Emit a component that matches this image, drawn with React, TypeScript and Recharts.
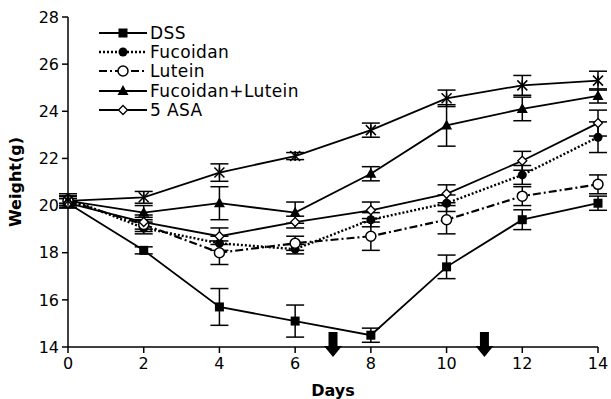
import React from "react";
import {
  LineChart,
  Line,
  XAxis,
  YAxis,
  ErrorBar,
  Legend,
  ReferenceDot,
} from "recharts";

const days = [0, 2, 4, 6, 8, 10, 12, 14];
const dss = [20.1, 18.1, 15.7, 15.1, 14.5, 17.4, 19.4, 20.1];
const dssErr = [0.2, 0.15, 0.78, 0.68, 0.3, 0.5, 0.42, 0.3];
const fucoidan = [20.3, 19.05, 18.4, 18.15, 19.4, 20.1, 21.3, 22.9];
const fucoidanErr = [0.2, 0.25, 0.3, 0.2, 0.3, 0.35, 0.4, 0.65];
const lutein = [20.2, 19.2, 18.0, 18.4, 18.7, 19.4, 20.4, 20.9];
const luteinErr = [0.2, 0.3, 0.5, 0.3, 0.6, 0.6, 0.4, 0.4];
const fucLut = [20.2, 19.7, 20.1, 19.7, 21.35, 23.4, 24.1, 24.65];
const fucLutErr = [0.2, 0.3, 0.7, 0.45, 0.3, 0.88, 0.5, 0.3];
const asa = [20.1, 19.3, 18.7, 19.3, 19.8, 20.5, 21.9, 23.5];
const asaErr = [0.2, 0.3, 0.35, 0.25, 0.35, 0.38, 0.4, 0.55];
const normal = [20.2, 20.35, 21.4, 22.1, 23.2, 24.55, 25.1, 25.3];
const normalErr = [0.2, 0.25, 0.37, 0.15, 0.3, 0.35, 0.42, 0.4];
const xTicks = [0, 2, 4, 6, 8, 10, 12, 14];
const yTicks = [14, 16, 18, 20, 22, 24, 26, 28];
const arrowDays = [7, 11];

const data = days.map((d, i) => ({
  day: d,
  dss: dss[i],
  dssErr: dssErr[i],
  fucoidan: fucoidan[i],
  fucoidanErr: fucoidanErr[i],
  lutein: lutein[i],
  luteinErr: luteinErr[i],
  fucLut: fucLut[i],
  fucLutErr: fucLutErr[i],
  asa: asa[i],
  asaErr: asaErr[i],
  normal: normal[i],
  normalErr: normalErr[i],
}));

type MarkerKind = "square" | "circle" | "ocircle" | "triangle" | "diamond" | "x";

const series: {
  key: string;
  name: string;
  marker: MarkerKind;
  dash?: string;
  width: number;
  legend: boolean;
}[] = [
  { key: "dss", name: "DSS", marker: "square", width: 1.8, legend: true },
  { key: "fucoidan", name: "Fucoidan", marker: "circle", dash: "2 2", width: 2.4, legend: true },
  { key: "lutein", name: "Lutein", marker: "ocircle", dash: "8 3 2 3", width: 2.2, legend: true },
  { key: "fucLut", name: "Fucoidan+Lutein", marker: "triangle", width: 1.8, legend: true },
  { key: "asa", name: "5 ASA", marker: "diamond", width: 1.8, legend: true },
  { key: "normal", name: "Normal", marker: "x", width: 1.8, legend: false },
];

const FONT = "'DejaVu Sans', sans-serif";

function Marker({ kind, cx, cy }: { kind: MarkerKind; cx: number; cy: number }) {
  switch (kind) {
    case "square":
      return <rect x={cx - 4.5} y={cy - 4.5} width={9} height={9} fill="#000" />;
    case "circle":
      return <circle cx={cx} cy={cy} r={4.5} fill="#000" />;
    case "ocircle":
      return <circle cx={cx} cy={cy} r={5} fill="#fff" stroke="#000" strokeWidth={1.5} />;
    case "triangle":
      return (
        <polygon
          points={`${cx},${cy - 6} ${cx - 5.5},${cy + 4} ${cx + 5.5},${cy + 4}`}
          fill="#000"
        />
      );
    case "diamond":
      return (
        <polygon
          points={`${cx},${cy - 4.5} ${cx + 4.5},${cy} ${cx},${cy + 4.5} ${cx - 4.5},${cy}`}
          fill="#fff"
          stroke="#000"
          strokeWidth={1.3}
        />
      );
    case "x":
      return (
        <g stroke="#000" strokeWidth={1.5}>
          <line x1={cx - 5} y1={cy - 5} x2={cx + 5} y2={cy + 5} />
          <line x1={cx - 5} y1={cy + 5} x2={cx + 5} y2={cy - 5} />
          <line x1={cx} y1={cy - 5} x2={cx} y2={cy + 5} />
        </g>
      );
  }
}

function Arrow(props: any) {
  const { cx, cy } = props;
  const pts = [
    [cx - 4.5, cy - 15],
    [cx + 4.5, cy - 15],
    [cx + 4.5, cy - 1],
    [cx + 9, cy - 1],
    [cx, cy + 10],
    [cx - 9, cy - 1],
    [cx - 4.5, cy - 1],
  ]
    .map((p) => p.join(","))
    .join(" ");
  return <polygon points={pts} fill="#000" />;
}

function LegendBox() {
  return (
    <div style={{ fontFamily: FONT, fontSize: 17, letterSpacing: 0.4, color: "#000" }}>
      {series
        .filter((s) => s.legend)
        .map((s) => (
          <div key={s.key} style={{ display: "flex", alignItems: "center", height: 19.4 }}>
            <svg width={50} height={14} style={{ marginRight: 2 }}>
              <line
                x1={1}
                y1={7}
                x2={49}
                y2={7}
                stroke="#000"
                strokeWidth={s.width}
                strokeDasharray={s.dash}
              />
              <Marker kind={s.marker} cx={25} cy={7} />
            </svg>
            <span>{s.name}</span>
          </div>
        ))}
    </div>
  );
}

export default function App() {
  return (
    <div style={{ position: "absolute", left: 0, top: 0, background: "#fff" }}>
      <LineChart
        width={611}
        height={399}
        data={data}
        margin={{ top: 17, right: 13, bottom: 0, left: 0 }}
      >
        <XAxis
          type="number"
          dataKey="day"
          domain={[0, 14]}
          ticks={xTicks}
          tickSize={6}
          tickMargin={5}
          height={52}
          stroke="#000"
          strokeWidth={1.5}
          tick={{ fill: "#000", fontSize: 16, fontFamily: FONT }}
          label={{
            content: (p: any) => {
              const vb = p.viewBox;
              return (
                <text
                  x={vb.x + vb.width / 2}
                  y={vb.y + 49}
                  textAnchor="middle"
                  fill="#000"
                  fontSize={16}
                  fontWeight="bold"
                  fontFamily={FONT}
                >
                  Days
                </text>
              );
            },
          }}
        />
        <YAxis
          type="number"
          domain={[14, 28]}
          ticks={yTicks}
          tickSize={6}
          tickMargin={3}
          width={68}
          stroke="#000"
          strokeWidth={1.5}
          tick={{ fill: "#000", fontSize: 16, fontFamily: FONT }}
          label={{
            content: (p: any) => {
              const vb = p.viewBox;
              const x = vb.x + 15;
              const y = vb.y + vb.height / 2;
              return (
                <text
                  x={x}
                  y={y}
                  transform={`rotate(-90 ${x} ${y})`}
                  textAnchor="middle"
                  dominantBaseline="central"
                  fill="#000"
                  fontSize={16}
                  fontWeight="bold"
                  fontFamily={FONT}
                >
                  Weight(g)
                </text>
              );
            },
          }}
        />
        <Legend
          layout="vertical"
          align="center"
          verticalAlign="middle"
          wrapperStyle={{ left: 98, top: 23, width: "auto" }}
          content={() => <LegendBox />}
        />
        {series.map((s) => (
          <Line
            key={s.key}
            type="linear"
            dataKey={s.key}
            name={s.name}
            stroke="#000"
            strokeWidth={s.width}
            strokeDasharray={s.dash}
            isAnimationActive={false}
            legendType={s.legend ? "line" : "none"}
            dot={(p: any) => (
              <Marker key={`${s.key}-${p.index}`} kind={s.marker} cx={p.cx} cy={p.cy} />
            )}
            activeDot={false}
          >
            <ErrorBar
              dataKey={`${s.key}Err`}
              width={9}
              stroke="#000"
              strokeWidth={1.5}
              isAnimationActive={false}
            />
          </Line>
        ))}
        {arrowDays.map((d) => (
          <ReferenceDot key={d} x={d} y={14} ifOverflow="visible" shape={Arrow} />
        ))}
      </LineChart>
    </div>
  );
}
